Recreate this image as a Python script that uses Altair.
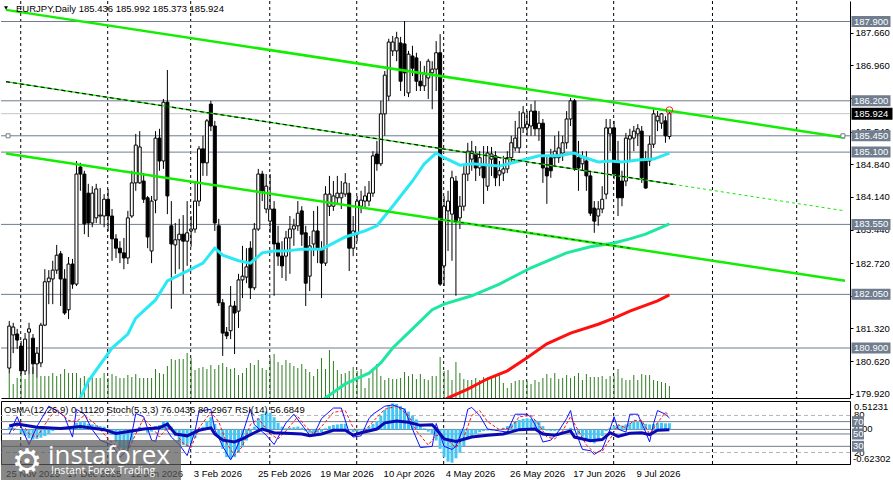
import altair as alt
import pandas as pd

# ---------------- data ----------------
TITLE = "EURJPY,Daily  185.436 185.992 185.373 185.924"
IND_TITLE = "OsMA(12,26,9) 0.11120  Stoch(5,3,3) 76.0436 80.2967  RSI(14) 56.6849"

O = [180.47, 181.18, 181.20, 180.94, 180.41, 181.24, 181.11, 180.56, 180.58, 181.39,
     182.32, 182.38, 182.57, 182.92, 182.38, 181.72, 182.70, 182.27, 184.78, 184.63,
     184.22, 183.58, 183.69, 183.73, 183.73, 184.09, 183.73, 183.24, 183.04, 182.94,
     182.83, 183.73, 184.44, 184.44, 184.48, 184.12, 182.98, 184.07, 185.40, 184.91,
     186.17, 183.52, 183.11, 183.22, 183.34, 183.19, 183.41, 183.45, 184.05, 185.17,
     184.87, 186.13, 185.66, 183.52, 181.87, 181.24, 181.27, 181.80, 181.69, 182.36,
     182.42, 183.04, 182.19, 183.45, 184.63, 183.88, 183.62, 183.88, 183.15, 182.87,
     182.87, 183.26, 183.45, 183.52, 183.84, 183.37, 182.44, 183.13, 183.41, 183.02,
     182.72, 183.94, 183.94, 184.12, 184.12, 184.20, 184.22, 183.04, 183.34, 183.94,
     184.05, 184.05, 184.22, 185.06, 184.85, 185.92, 186.30, 187.27, 187.27, 187.44,
     187.42, 186.37, 187.16, 187.12, 186.62, 186.52, 186.69, 186.80, 186.88, 187.23,
     182.66, 183.84, 183.77, 184.48, 183.69, 183.94, 184.63, 184.95, 185.06, 184.76,
     184.80, 184.37, 184.95, 185.02, 184.61, 184.65, 184.74, 184.98, 185.19, 185.19,
     185.62, 185.62, 185.66, 185.98, 185.60, 185.72, 184.76, 184.98, 184.98, 184.98,
     185.08, 185.30, 185.81, 186.20, 184.98, 184.85, 184.91, 184.59, 183.90, 183.73,
     183.88, 184.20, 185.49, 185.62, 184.91, 184.48, 184.48, 185.38, 185.40, 185.49,
     185.55, 184.91, 184.91, 185.27, 185.77, 185.72, 185.77, 185.436]
H = [181.48, 181.44, 181.31, 181.05, 181.22, 181.44, 181.20, 180.92, 181.44, 182.59,
     182.57, 182.77, 183.11, 182.98, 182.59, 182.85, 182.81, 184.91, 184.87, 184.70,
     184.42, 184.37, 184.42, 184.33, 184.20, 184.31, 183.88, 183.34, 183.19, 183.26,
     183.84, 184.70, 185.49, 185.55, 184.65, 184.16, 184.16, 185.55, 185.60, 186.24,
     186.86, 184.05, 183.58, 183.67, 183.75, 184.05, 183.73, 184.48, 185.23, 185.45,
     185.81, 186.20, 185.77, 183.67, 181.95, 181.35, 182.23, 181.91, 182.49, 183.09,
     183.04, 183.19, 183.58, 184.74, 184.70, 184.63, 184.63, 184.05, 183.52, 183.19,
     183.41, 183.73, 183.67, 184.05, 183.94, 183.52, 183.30, 183.84, 183.94, 183.19,
     184.37, 184.59, 184.48, 184.59, 184.48, 184.65, 184.44, 183.73, 184.16, 184.27,
     184.37, 184.48, 185.12, 185.34, 186.20, 186.84, 187.53, 187.59, 187.68, 187.57,
     187.91, 187.27, 187.38, 187.23, 187.05, 186.95, 187.10, 187.05, 187.48, 187.63,
     184.16, 184.27, 184.70, 184.59, 184.16, 184.80, 185.30, 185.34, 185.23, 185.12,
     185.23, 185.23, 185.21, 185.12, 184.91, 185.02, 185.12, 185.45, 185.77, 185.98,
     186.09, 185.98, 186.13, 186.20, 185.98, 185.81, 185.02, 185.17, 185.45, 185.55,
     185.45, 185.98, 186.26, 186.24, 185.34, 185.12, 185.12, 184.70, 184.05, 184.05,
     184.37, 185.81, 185.81, 185.77, 185.34, 184.70, 185.51, 185.60, 185.66, 185.70,
     185.66, 185.12, 185.45, 186.02, 185.98, 185.94, 185.87, 185.992]
L = [180.36, 180.79, 180.88, 180.34, 180.32, 180.34, 180.34, 180.26, 180.49, 181.37,
     181.84, 181.84, 182.49, 181.80, 181.61, 181.52, 182.17, 182.23, 184.27, 183.34,
     183.28, 183.49, 183.58, 183.56, 183.49, 183.41, 182.77, 182.83, 182.72, 182.59,
     182.70, 183.69, 184.27, 184.42, 184.01, 183.04, 182.72, 183.79, 184.70, 184.74,
     183.77, 181.74, 182.49, 182.59, 182.06, 182.66, 183.07, 183.37, 183.94, 184.59,
     184.59, 185.55, 183.41, 181.80, 180.73, 181.09, 181.09, 180.77, 181.33, 181.97,
     182.29, 181.95, 182.14, 183.41, 184.05, 183.79, 183.37, 182.02, 182.66, 182.40,
     182.34, 182.49, 183.09, 183.41, 183.09, 181.80, 182.12, 182.87, 182.72, 181.97,
     182.66, 183.73, 183.84, 184.01, 183.88, 184.14, 182.55, 182.87, 183.19, 183.79,
     183.90, 183.94, 184.14, 184.70, 184.80, 185.45, 186.20, 187.16, 187.05, 186.41,
     186.30, 186.28, 186.73, 186.41, 186.41, 186.41, 186.24, 186.02, 186.41, 182.23,
     182.23, 182.98, 182.77, 182.02, 183.45, 183.84, 184.48, 184.70, 184.48, 184.59,
     183.99, 184.27, 184.59, 184.37, 184.37, 184.48, 184.65, 184.87, 185.12, 185.08,
     185.51, 185.45, 185.45, 185.45, 185.34, 184.44, 183.99, 184.55, 184.80, 184.87,
     184.91, 185.17, 185.66, 184.70, 184.27, 184.70, 184.27, 183.73, 183.37, 183.52,
     183.79, 184.09, 185.12, 184.52, 183.73, 183.94, 184.37, 184.91, 185.12, 185.23,
     184.44, 184.31, 184.80, 185.19, 185.55, 185.60, 185.30, 185.373]
C = [181.37, 181.35, 181.07, 180.41, 181.09, 181.31, 180.56, 180.79, 181.39, 182.32,
     182.40, 182.57, 182.89, 182.38, 181.65, 182.70, 182.27, 184.63, 184.63, 183.56,
     183.58, 184.22, 184.31, 183.75, 184.09, 183.73, 183.24, 183.04, 182.94, 182.83,
     183.69, 184.44, 185.25, 185.21, 184.09, 183.28, 184.05, 185.40, 184.91, 186.17,
     184.16, 183.13, 183.22, 183.34, 183.19, 183.37, 183.45, 184.05, 185.17, 184.87,
     185.77, 185.66, 183.58, 181.87, 181.22, 181.16, 181.80, 181.65, 182.36, 182.44,
     182.64, 182.19, 183.45, 184.63, 184.27, 184.37, 183.88, 183.13, 182.87, 182.66,
     183.26, 183.45, 183.52, 183.79, 183.34, 182.29, 183.09, 183.41, 183.02, 182.72,
     184.20, 184.20, 184.16, 184.22, 184.22, 184.44, 183.04, 183.41, 184.05, 184.07,
     184.16, 184.22, 185.02, 184.85, 185.92, 186.75, 187.46, 187.46, 187.55, 186.62,
     186.80, 187.20, 186.90, 186.62, 186.52, 186.77, 187.05, 186.88, 187.23, 182.27,
     183.94, 184.05, 184.55, 183.62, 183.94, 184.63, 185.12, 185.12, 184.76, 184.98,
     184.55, 185.08, 185.06, 184.55, 184.70, 184.74, 184.98, 185.30, 185.40, 185.62,
     185.94, 185.70, 185.98, 185.60, 185.72, 184.76, 184.59, 184.70, 185.12, 185.19,
     185.30, 185.81, 186.20, 184.74, 184.76, 184.98, 184.59, 183.79, 183.62, 183.88,
     184.09, 185.62, 185.62, 184.63, 184.12, 184.12, 185.40, 185.45, 185.55, 185.60,
     184.55, 184.33, 185.27, 185.92, 185.87, 185.92, 185.45, 185.924]
VOL = [25, 14, 20, 44, 19, 24, 31, 20, 22, 22,
       22, 25, 22, 24, 29, 25, 25, 25, 20, 22,
       20, 22, 20, 20, 25, 20, 24, 22, 20, 20,
       23, 21, 24, 20, 20, 20, 20, 29, 25, 24,
       32, 39, 38, 39, 39, 45, 40, 28, 30, 31,
       29, 33, 29, 33, 35, 31, 29, 30, 23, 25,
       30, 35, 33, 38, 30, 28, 40, 44, 36, 33,
       38, 35, 32, 30, 34, 29, 26, 22, 29, 40,
       29, 48, 37, 28, 24, 25, 27, 31, 27, 29,
       10, 20, 29, 34, 22, 18, 20, 19, 19, 20,
       26, 22, 24, 19, 24, 19, 18, 22, 22, 41,
       27, 28, 18, 36, 25, 19, 18, 18, 20, 18,
       21, 20, 22, 22, 23, 15, 10, 15, 17, 18,
       18, 17, 14, 18, 16, 20, 24, 20, 25, 19,
       20, 23, 20, 22, 25, 18, 24, 21, 21, 21,
       22, 19, 22, 22, 29, 20, 18, 18, 23, 18,
       24, 23, 23, 18, 17, 16, 15, 12]

CYAN_I = [17, 18, 20, 26, 30, 32, 37, 40, 45, 49, 52, 54, 58, 61, 64, 67, 70, 74, 79, 82, 85,
          90, 93, 97, 102, 105, 108, 110, 114, 117, 124, 129, 134, 139, 143, 145, 149, 152,
          155, 159, 163, 167]
CYAN_V = [179.60, 179.83, 180.19, 180.90, 181.20, 181.54, 181.93, 182.34, 182.55, 182.72,
          183.04, 182.89, 182.77, 182.72, 182.94, 182.98, 182.98, 183.02, 183.02, 183.15,
          183.28, 183.41, 183.52, 183.94, 184.48, 184.85, 185.08, 184.98, 184.82, 184.85,
          184.80, 184.91, 185.02, 185.02, 185.08, 185.00, 184.89, 184.91, 184.89, 184.93,
          184.95, 185.08]
SPRING_I = [78, 80, 85, 91, 94, 97, 102, 107, 110, 117, 124, 132, 141, 147, 153, 157, 161, 167]
SPRING_V = [179.70, 179.83, 180.13, 180.36, 180.58, 180.90, 181.31, 181.72, 181.84, 182.02,
            182.27, 182.62, 182.94, 183.07, 183.15, 183.24, 183.34, 183.56]
RED_I = [110, 111, 116, 121, 126, 131, 136, 142, 149, 153, 157, 164, 167]
RED_V = [179.78, 179.83, 180.02, 180.24, 180.41, 180.69, 180.99, 181.22, 181.41, 181.54,
         181.69, 181.91, 182.04]

UPPER_I = [-0.825, 211.425]
UPPER_P = [188.15, 185.41]
MID_DARK_I = [-0.825, 168]
MID_DARK_P = [186.61, 184.41]
MID_FUT_I = [168, 211.425]
MID_FUT_P = [184.41, 183.84]
LOWER_I = [-0.825, 211.425]
LOWER_P = [185.07, 182.34]
LOW_DARK_I = [109, 157]
LOW_DARK_P = [183.66, 183.04]

LEVELS = [187.900, 186.200, 185.450, 185.100, 183.550, 182.050, 180.900]
CURRENT = 185.924
MARK_P = 186.00
SQUARE_I = [-0.3, 210.9]
AXIS_TICKS = [187.66, 186.96, 186.25, 185.54, 184.84, 184.14, 183.44, 182.72, 182.02,
              181.32, 180.62, 179.92]
GRID_I = [2.9, 24.9, 45.9, 65.9, 87.9, 109.9, 130.9, 152.9, 177.9, 199.2]
DATE_I = [-0.8, 14.7, 30.7, 46.7, 62.9, 78.7, 94.7, 110.4, 126.7, 142.7, 158.7]
DATE_TXT = ["25 Nov 2025", "17 Dec 2025", "12 Jan 2026", "3 Feb 2026", "25 Feb 2026",
            "19 Mar 2026", "10 Apr 2026", "4 May 2026", "26 May 2026", "17 Jun 2026",
            "9 Jul 2026"]

OSMA = [0.04, 0.03, 0.01, -0.06, -0.12, -0.16, -0.18, -0.17, -0.15, -0.12,
        -0.08, -0.03, 0.01, 0.03, 0.02, 0.03, 0.05, 0.12, 0.15, 0.13,
        0.10, 0.09, 0.08, 0.06, 0.05, 0.00, -0.10, -0.22, -0.33, -0.40,
        -0.35, -0.20, -0.05, 0.05, 0.02, -0.06, -0.04, 0.06, 0.08, 0.14,
        0.15, 0.05, -0.12, -0.22, -0.28, -0.30, -0.25, -0.15, -0.02, 0.05,
        0.15, 0.22, 0.10, -0.15, -0.35, -0.50, -0.53, -0.50, -0.42, -0.32,
        -0.20, -0.10, 0.05, 0.20, 0.28, 0.32, 0.30, 0.22, 0.12, 0.05,
        0.02, 0.03, 0.04, 0.05, 0.03, -0.03, -0.06, -0.08, -0.06, -0.05,
        0.02, 0.06, 0.08, 0.09, 0.10, 0.10, -0.02, -0.05, -0.04, -0.02,
        0.02, 0.05, 0.10, 0.15, 0.25, 0.35, 0.43, 0.47, 0.46, 0.42,
        0.38, 0.32, 0.25, 0.18, 0.10, 0.02, -0.04, -0.08, -0.20, -0.35,
        -0.50, -0.58, -0.60, -0.52, -0.42, -0.30, -0.18, -0.12, -0.08, -0.05,
        -0.03, -0.02, -0.02, -0.01, 0.01, 0.03, 0.06, 0.10, 0.14, 0.17,
        0.19, 0.20, 0.19, 0.17, 0.14, 0.06, -0.02, -0.03, -0.03, -0.02,
        -0.01, 0.01, 0.03, -0.02, -0.08, -0.13, -0.18, -0.22, -0.25, -0.20,
        -0.12, -0.03, 0.03, 0.07, 0.08, 0.07, 0.09, 0.12, 0.14, 0.15,
        0.13, 0.10, 0.09, 0.10, 0.11, 0.12, 0.11, 0.1112]
STOCH_I = [0, 2, 3, 5, 7, 10, 12, 14, 16, 17, 19, 21, 23, 26, 28, 30, 31, 32, 34, 36, 37, 38,
           39, 41, 43, 45, 47, 48, 51, 52, 54, 56, 57, 59, 61, 62, 65, 67, 70, 72, 74, 76, 77,
           79, 82, 84, 86, 87, 89, 91, 92, 95, 97, 100, 102, 104, 107, 108, 110, 112, 113,
           115, 116, 117, 119, 121, 124, 126, 127, 128, 131, 132, 134, 135, 137, 139, 141,
           142, 143, 145, 147, 148, 150, 152, 153, 154, 156, 157, 159, 161, 162, 163, 164,
           166, 167]
STOCH_V = [50, 78, 62, 33, 62, 95, 88, 78, 45, 90, 82, 57, 40, 32, 12, 25, 50, 83, 78, 40, 38,
           60, 65, 45, 33, 15, 55, 87, 90, 57, 30, 8, 20, 50, 90, 65, 48, 33, 68, 82, 65, 48,
           48, 75, 92, 92, 52, 45, 47, 75, 82, 95, 97, 90, 58, 28, 30, 67, 30, 25, 30, 62, 90,
           93, 80, 58, 55, 53, 68, 82, 82, 77, 53, 37, 40, 55, 75, 88, 58, 25, 23, 17, 25, 58,
           78, 58, 53, 82, 82, 53, 37, 67, 88, 82, 76.04]
SIG_I = [1, 3, 5, 7, 10, 12, 15, 17, 19, 22, 25, 28, 30, 32, 34, 36, 38, 40, 42, 44, 46, 48,
         51, 53, 55, 57, 59, 61, 63, 66, 68, 70, 73, 75, 77, 79, 82, 85, 87, 89, 92, 95, 98,
         101, 103, 106, 108, 110, 113, 115, 117, 119, 121, 124, 127, 129, 132, 134, 136, 138,
         140, 142, 144, 146, 148, 150, 152, 154, 156, 158, 160, 162, 164, 166, 167]
SIG_V = [55, 70, 50, 45, 75, 90, 72, 70, 80, 65, 42, 25, 22, 50, 75, 62, 45, 60, 52, 35, 28,
         60, 85, 70, 35, 15, 30, 65, 75, 50, 42, 55, 78, 62, 50, 62, 85, 88, 60, 48, 70, 90,
         95, 80, 55, 32, 48, 45, 28, 45, 80, 88, 70, 57, 60, 78, 80, 65, 45, 42, 55, 78, 55,
         32, 20, 22, 42, 65, 60, 72, 72, 50, 68, 85, 80.30]
RSI_I = [0, 2, 7, 13, 18, 24, 27, 31, 34, 38, 40, 42, 45, 48, 51, 52, 54, 57, 59, 62, 64, 67,
         70, 74, 76, 79, 82, 85, 87, 89, 93, 95, 98, 101, 104, 107, 108, 110, 113, 117, 121,
         125, 129, 133, 135, 138, 142, 143, 147, 150, 152, 154, 157, 160, 162, 164, 167]
RSI_V = [63, 66, 61, 59, 62, 57, 51, 55, 58, 60, 66, 50, 47, 56, 60, 50, 40, 37, 42, 52, 58,
         52, 51, 50, 47, 50, 56, 56, 48, 52, 58, 68, 71, 69, 64, 65, 58, 42, 38, 45, 48, 50,
         57, 58, 50, 48, 55, 45, 39, 41, 52, 46, 51, 52, 49, 56, 56.68]
SOLID_LEVELS = [70, 50, 30]
DASH_LEVELS = [80, 20]
OSMA_MAX = 0.51231
OSMA_MIN = -0.62302

# ---------------- styles ----------------
FONT = "Liberation Sans"
FS = 9.5
SLATE = "#6f7d8e"
BOX = "#6f7d8e"
GREEN = "#11ee00"
W, HM, HI = 849, 397, 63

XS = alt.Scale(domain=[-0.825, 211.425], nice=False, zero=False)
PS = alt.Scale(domain=[179.828, 188.34], nice=False, zero=False)
VS = alt.Scale(domain=[0, 397], nice=False, zero=False)
SS = alt.Scale(domain=[1.4, 103.4], nice=False, zero=False)
OS = alt.Scale(domain=[OSMA_MIN, OSMA_MAX], nice=False, zero=False)

XAX = alt.Axis(orient="bottom", labels=False, ticks=False, domain=True, domainColor="black",
               domainWidth=1, grid=False, title=None)
YAX = alt.Axis(orient="right", values=AXIS_TICKS, format=".3f", labelFont=FONT, labelFontSize=FS,
               labelColor="black", tickColor="black", tickSize=3, domainColor="black",
               domainWidth=1, grid=False, title=None, labelPadding=2, labelFlush=False,
               labelOverlap=False)


def xq(f="i"):
    return alt.X(f"{f}:Q", scale=XS, axis=XAX)


def yp(f="p"):
    return alt.Y(f"{f}:Q", scale=PS, axis=YAX)


def ys(f="v"):
    return alt.Y(f"{f}:Q", scale=SS, axis=None)


def yo(f="v"):
    return alt.Y(f"{f}:Q", scale=OS, axis=None)


N = len(C)
bars = pd.DataFrame({"i": list(range(N)), "o": O, "h": H, "l": L, "c": C, "v": VOL})
bars["top"] = bars[["o", "c"]].max(axis=1)
bars["bot"] = bars[["o", "c"]].min(axis=1)
bars["up"] = bars["c"] >= bars["o"]

# ---------------- main panel ----------------
grid_df = pd.DataFrame({"i": GRID_I})
grid = alt.Chart(grid_df).mark_rule(color="black", strokeDash=[3, 3], strokeWidth=1).encode(x=xq())

vol = alt.Chart(bars).mark_rule(color="#2f7d22", strokeWidth=1).encode(
    x=xq(), y=alt.Y("v:Q", scale=VS, axis=None), y2=alt.datum(0))

levels_df = pd.DataFrame({"p": LEVELS, "lab": [f"{v:.3f}" for v in LEVELS]})
cur_df = pd.DataFrame({"p": [CURRENT], "lab": [f"{CURRENT:.3f}"]})
level_lines = alt.Chart(levels_df).mark_rule(color=SLATE, strokeWidth=1).encode(y=yp())
cur_line = alt.Chart(cur_df).mark_rule(color="#c4c4c4", strokeWidth=1).encode(y=yp())

wicks = alt.Chart(bars).mark_rule(color="black", strokeWidth=1).encode(
    x=xq(), y=yp("l"), y2="h:Q")
bodies = alt.Chart(bars).mark_bar(width=3, stroke="black", strokeWidth=1).encode(
    x=xq(), y=yp("top"), y2="bot:Q",
    fill=alt.condition("datum.up", alt.value("white"), alt.value("black")))


def line(I, P, color, width, dash=None):
    kw = dict(color=color, strokeWidth=width, clip=True)
    if dash:
        kw["strokeDash"] = dash
    return alt.Chart(pd.DataFrame({"i": I, "p": P})).mark_line(**kw).encode(x=xq(), y=yp())


ma_cyan = line(CYAN_I, CYAN_V, "#2ae8f4", 3)
ma_spring = line(SPRING_I, SPRING_V, "#1ee8a0", 3)
ma_red = line(RED_I, RED_V, "#ff1010", 3)
tl_upper = line(UPPER_I, UPPER_P, GREEN, 2.5)
tl_lower = line(LOWER_I, LOWER_P, GREEN, 2.5)
tl_low_dark = line(LOW_DARK_I, LOW_DARK_P, "#1a3a10", 1, [3, 4])
tl_mid = line(MID_DARK_I, MID_DARK_P, GREEN, 1.2)
tl_mid_dark = line(MID_DARK_I, MID_DARK_P, "#101010", 1.2, [4, 3])
tl_mid_fut = line(MID_FUT_I, MID_FUT_P, GREEN, 1, [3, 3])

circle = alt.Chart(pd.DataFrame({"i": [N - 1], "p": [MARK_P]})).mark_point(
    shape="circle", size=45, color="#ff2020", strokeWidth=1, filled=False, opacity=1).encode(x=xq(), y=yp())
squares = alt.Chart(pd.DataFrame({"i": SQUARE_I, "p": [LEVELS[2]] * 2})).mark_point(
    shape="square", size=16, fill="white", stroke=SLATE, strokeWidth=1, filled=True, opacity=1).encode(x=xq(), y=yp())

level_boxes = alt.Chart(levels_df).mark_tick(orient="horizontal", thickness=11, size=39, color=BOX,
                                              opacity=1).encode(x=alt.value(870), y=yp())
level_text = alt.Chart(levels_df).mark_text(align="left", baseline="middle", font=FONT, fontSize=FS,
                                            color="white").encode(x=alt.value(853), y=yp(), text="lab:N")
cur_box = alt.Chart(cur_df).mark_tick(orient="horizontal", thickness=12, size=41, color="black",
                                       opacity=1).encode(x=alt.value(871), y=yp())
cur_text = alt.Chart(cur_df).mark_text(align="left", baseline="middle", font=FONT, fontSize=FS,
                                       color="white").encode(x=alt.value(853), y=yp(), text="lab:N")

title_df = pd.DataFrame({"t": [TITLE]})
title = alt.Chart(title_df).mark_text(align="left", baseline="middle", font=FONT, fontSize=FS,
                                      color="black").encode(x=alt.value(15), y=alt.value(8), text="t:N")
tri = alt.Chart(title_df).mark_point(shape="triangle-down", filled=True, color="black", size=16,
                                     opacity=1).encode(x=alt.value(5), y=alt.value(7))

price_layer = alt.layer(level_lines, cur_line, wicks, bodies, ma_cyan, ma_spring, ma_red,
                        tl_upper, tl_lower, tl_low_dark, tl_mid, tl_mid_dark, tl_mid_fut,
                        circle, squares, level_boxes, level_text, cur_box, cur_text, title, tri)
main = alt.layer(alt.layer(grid, vol), price_layer).resolve_scale(y="independent").properties(
    width=W, height=HM)

# ---------------- indicator panel ----------------
lev_s = alt.Chart(pd.DataFrame({"v": SOLID_LEVELS, "lab": [str(v) for v in SOLID_LEVELS]}))
lev_d = alt.Chart(pd.DataFrame({"v": DASH_LEVELS, "lab": [str(v) for v in DASH_LEVELS]}))
ind_levels = alt.layer(
    lev_d.mark_rule(color="#b4b4b4", strokeDash=[4, 3], strokeWidth=1).encode(y=ys()),
    lev_s.mark_rule(color=SLATE, strokeWidth=1).encode(y=ys()),
    grid,
)

osma_df = pd.DataFrame({"i": list(range(N)), "v": OSMA})
osma_layer = alt.layer(
    alt.Chart(pd.DataFrame({"v": [0.0]})).mark_rule(color=SLATE, strokeWidth=1).encode(y=yo()),
    alt.Chart(osma_df).mark_bar(width=3, color="#45c6f2").encode(x=xq(), y=yo(), y2=alt.datum(0)),
    alt.Chart(pd.DataFrame({"v": [OSMA_MAX], "lab": [f"{OSMA_MAX:.5f}"]})).mark_text(
        align="left", baseline="top", font=FONT, fontSize=FS, color="black", dy=1).encode(
        x=alt.value(853), y=yo(), text="lab:N"),
    alt.Chart(pd.DataFrame({"v": [OSMA_MIN], "lab": [f"{OSMA_MIN:.5f}"]})).mark_text(
        align="left", baseline="bottom", font=FONT, fontSize=FS, color="black", dy=0).encode(
        x=alt.value(852), y=yo(), text="lab:N"),
    alt.Chart(pd.DataFrame({"v": [0.0], "lab": ["0.00"]})).mark_text(
        align="left", baseline="middle", font=FONT, fontSize=FS, color="black").encode(
        x=alt.value(853), y=yo(), text="lab:N"),
)

line_df = lambda I, V: pd.DataFrame({"i": I, "v": V})
ind_lines = alt.layer(
    alt.Chart(line_df(STOCH_I, STOCH_V)).mark_line(color="#1010ff", strokeWidth=1).encode(x=xq(), y=ys()),
    alt.Chart(line_df(SIG_I, SIG_V)).mark_line(color="#ff1010", strokeWidth=1, strokeDash=[3, 2]).encode(x=xq(), y=ys()),
    alt.Chart(line_df(RSI_I, RSI_V)).mark_line(color="#0a0ab4", strokeWidth=3).encode(x=xq(), y=ys()),
    lev_d.mark_text(align="left", baseline="middle", font=FONT, fontSize=FS, color="black").encode(
        x=alt.value(853), y=ys(), text="lab:N"),
    lev_s.mark_tick(orient="horizontal", thickness=11, size=12, color=BOX, opacity=1).encode(
        x=alt.value(857), y=ys()),
    lev_s.mark_text(align="left", baseline="middle", font=FONT, fontSize=FS, color="white").encode(
        x=alt.value(852), y=ys(), text="lab:N"),
)

date_df = pd.DataFrame({"i": DATE_I, "t": DATE_TXT})
wm_df = pd.DataFrame({"a": ["instaforex"], "b": ["Instant Forex Trading"], "g": ["\u2699"],
                      "t": [IND_TITLE]})
overlay = alt.layer(
    alt.Chart(wm_df).mark_text(align="left", baseline="middle", font=FONT, fontSize=FS, color="black").encode(
        x=alt.value(3), y=alt.value(9), text="t:N"),
    alt.Chart(date_df).mark_text(align="left", baseline="middle", font=FONT, fontSize=FS, color="black").encode(
        x=xq(), y=alt.value(73), text="t:N"),
    alt.Chart(wm_df).mark_rect(color="#5a5a5a", opacity=0.72, cornerRadius=2).encode(
        x=alt.value(0), x2=alt.value(180), y=alt.value(39), y2=alt.value(81)),
    alt.Chart(wm_df).mark_text(align="center", baseline="middle", font="DejaVu Sans", fontSize=34,
                               color="white").encode(x=alt.value(26), y=alt.value(62), text="g:N"),
    alt.Chart(wm_df).mark_text(align="left", baseline="alphabetic", font="Open Sans", fontSize=26,
                               color="white").encode(x=alt.value(47), y=alt.value(63), text="a:N"),
    alt.Chart(wm_df).mark_text(align="left", baseline="middle", font="Open Sans", fontSize=10.5,
                               color="white").encode(x=alt.value(50), y=alt.value(70), text="b:N"),
)

ind = alt.layer(ind_levels, osma_layer, ind_lines, overlay).resolve_scale(y="independent").properties(
    width=W, height=HI, view=alt.ViewBackground(stroke="black", strokeWidth=1))

chart = alt.vconcat(main, ind, spacing=1).properties(padding=0, background="white").configure_view(
    strokeWidth=0)

chart.save("out.html", embed_options={"renderer": "svg", "actions": False})
